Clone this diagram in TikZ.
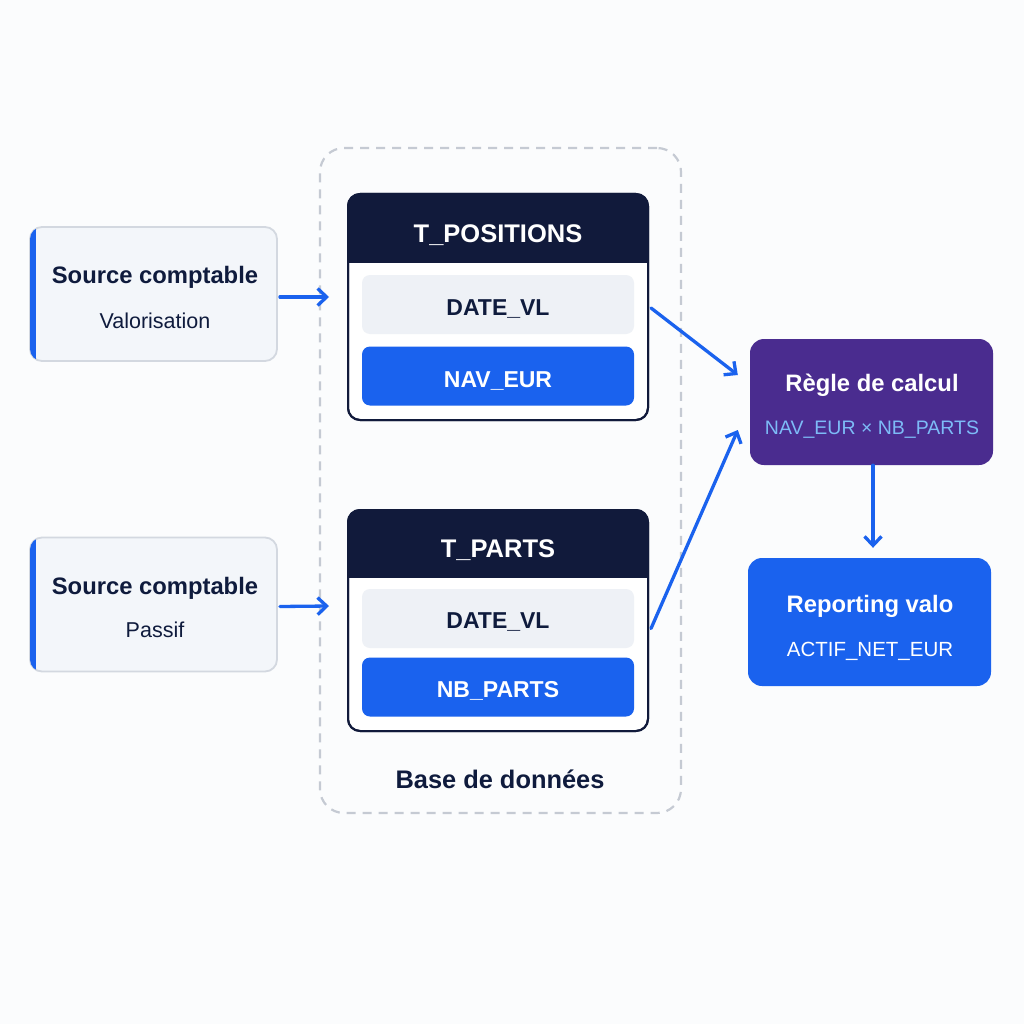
\documentclass[tikz,border=0pt]{standalone}
\usepackage{fontspec}
\setmainfont{Liberation Sans}
\usetikzlibrary{arrows.meta,calc}
\definecolor{navy}{HTML}{111A3B}
\definecolor{ink}{HTML}{0F1B3D}
\definecolor{brand}{HTML}{1A62EE}
\definecolor{rowgray}{HTML}{EEF1F6}
\definecolor{srcfill}{HTML}{F3F6FA}
\definecolor{srcline}{HTML}{D3D8E0}
\definecolor{rulepurple}{HTML}{4A2C8F}
\definecolor{lightblue}{HTML}{7DBBF7}
\definecolor{dashgray}{HTML}{C5CAD3}
\definecolor{bgc}{HTML}{FBFCFD}
\begin{document}
\begin{tikzpicture}[x=1pt,y=-1pt,
  arrowline/.style={draw=brand, line width=3.3pt, line cap=round, -{Straight Barb[length=9pt,width=17pt]}},
  srcbox/.style={draw=srcline, line width=1.8pt, fill=srcfill, rounded corners=12pt, minimum width=247pt, minimum height=134pt, inner sep=0pt},
  tablebox/.style={draw=navy, line width=2pt, fill=white, rounded corners=12pt, minimum width=300pt, inner sep=0pt},
  rowbox/.style={rounded corners=8pt, minimum width=272pt, minimum height=59pt, inner sep=0pt},
  ttl/.style={font=\bfseries\fontsize{23.8}{28}\selectfont, text=ink, anchor=base, inner sep=0pt},
  sub/.style={font=\fontsize{21.5}{26}\selectfont, text=ink, anchor=base, inner sep=0pt},
  hdr/.style={font=\bfseries\fontsize{25.5}{30}\selectfont, text=white, anchor=base, inner sep=0pt},
  fld/.style={font=\bfseries\fontsize{23}{28}\selectfont, anchor=base, inner sep=0pt},
  wtl/.style={font=\bfseries\fontsize{23.8}{28}\selectfont, text=white, anchor=base, inner sep=0pt},
  wsub/.style={font=\fontsize{19.5}{24}\selectfont, anchor=base, inner sep=0pt}
]
\fill[bgc] (0,0) rectangle (1024,1024);
\useasboundingbox (0,0) rectangle (1024,1024);

% database container
\node[draw=dashgray, line width=2.2pt, dash pattern=on 9pt off 7pt, rounded corners=24pt,
      minimum width=361pt, minimum height=665pt, inner sep=0pt] (db) at (500.5,480.5) {};
\node[font=\bfseries\fontsize{25.4}{30}\selectfont, text=ink, anchor=base, inner sep=0pt] (dblabel) at (500,788) {Base de donn\'ees};

% source boxes
\node[srcbox] (src1) at (153.5,294) {};
\begin{scope}
  \clip[rounded corners=12pt] (30,227) rectangle (277,361);
  \fill[brand] (29,227) rectangle (36,361);
\end{scope}
\node[ttl] (src1t) at (155,283) {Source comptable};
\node[sub] (src1s) at (155,328) {Valorisation};

\node[srcbox] (src2) at (153.5,604.5) {};
\begin{scope}
  \clip[rounded corners=12pt] (30,537.5) rectangle (277,671.5);
  \fill[brand] (29,537) rectangle (36,672);
\end{scope}
\node[ttl] (src2t) at (155,594) {Source comptable};
\node[sub] (src2s) at (155,637) {Passif};

% T_POSITIONS
\node[tablebox, minimum height=226pt] (tpos) at (498,307) {};
\begin{scope}
  \clip[rounded corners=12pt] (348,194) rectangle (648,420);
  \fill[navy] (347,193) rectangle (649,263);
\end{scope}
\draw[navy, line width=2pt, rounded corners=12pt] (348,194) rectangle (648,420);
\node[hdr] (tposh) at (498,242) {T\_POSITIONS};
\node[rowbox, fill=rowgray] (tposr1) at (498,304.5) {};
\node[fld, text=ink] (tposr1t) at (498,315) {DATE\_VL};
\node[rowbox, fill=brand] (tposr2) at (498,376) {};
\node[fld, text=white] (tposr2t) at (498,387) {NAV\_EUR};

% T_PARTS
\node[tablebox, minimum height=221pt] (tparts) at (498,620.5) {};
\begin{scope}
  \clip[rounded corners=12pt] (348,510) rectangle (648,731);
  \fill[navy] (347,509) rectangle (649,578);
\end{scope}
\draw[navy, line width=2pt, rounded corners=12pt] (348,510) rectangle (648,731);
\node[hdr] (tpartsh) at (498,557) {T\_PARTS};
\node[rowbox, fill=rowgray] (tpartsr1) at (498,618.5) {};
\node[fld, text=ink] (tpartsr1t) at (498,628) {DATE\_VL};
\node[rowbox, fill=brand] (tpartsr2) at (498,687) {};
\node[fld, text=white] (tpartsr2t) at (498,697) {NB\_PARTS};

% rule
\node[fill=rulepurple, rounded corners=14pt, minimum width=243pt, minimum height=126pt, inner sep=0pt] (rule) at (871.5,402) {};
\node[wtl] (rulet) at (872,391) {R\`egle de calcul};
\node[wsub, text=lightblue] (rules) at (872,434) {NAV\_EUR × NB\_PARTS};

% reporting
\node[fill=brand, rounded corners=14pt, minimum width=243pt, minimum height=128pt, inner sep=0pt] (rep) at (869.5,622) {};
\node[wtl] (rept) at (870,612) {Reporting valo};
\node[wsub, font=\fontsize{20.5}{25}\selectfont, text=white] (reps) at (870,656) {ACTIF\_NET\_EUR};

% arrows
\draw[arrowline] ($(src1.east)+(2,3)$) -- ($(tpos.west)+(-18,-10)$);
\draw[arrowline] ($(src2.east)+(2,2)$) -- ($(tparts.west)+(-18,-14.5)$);
\draw[arrowline] ($(tpos.east)+(2,1)$) -- ($(rule.west)+(-12,-27)$);
\draw[arrowline] ($(tparts.east)+(2,8)$) -- ($(rule.west)+(-12,28)$);
\draw[arrowline] ($(rule.south)+(1.5,0)$) -- ($(rule.south |- rep.north)+(1.5,-10)$);
\end{tikzpicture}
\end{document}
